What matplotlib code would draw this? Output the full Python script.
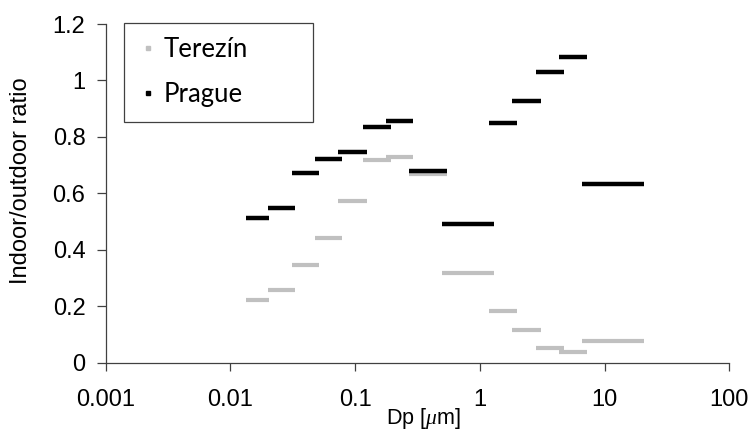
import matplotlib
matplotlib.use("Agg")
import matplotlib.pyplot as plt
from matplotlib.lines import Line2D
from matplotlib.ticker import FixedLocator, FixedFormatter, NullLocator

# Size bins (lower / upper edge, um)
bin_lo = [0.0133, 0.0202, 0.0314, 0.0477, 0.0733, 0.115, 0.177, 0.269, 0.50, 1.18, 1.82, 2.80, 4.30, 6.61]
bin_hi = [0.0205, 0.0332, 0.0511, 0.0789, 0.124, 0.193, 0.293, 0.545, 1.30, 2.00, 3.07, 4.72, 7.26, 20.9]

# Indoor/outdoor ratios
terezin = [0.221, 0.259, 0.347, 0.443, 0.572, 0.718, 0.730, 0.667, 0.317, 0.184, 0.116, 0.052, 0.038, 0.076]
prague = [0.512, 0.549, 0.672, 0.721, 0.748, 0.836, 0.856, 0.680, 0.491, 0.848, 0.928, 1.029, 1.083, 0.632]

series_names = ["Terezín", "Prague"]
series_colors = ["#c0c0c0", "#000000"]

x_ticks = [0.001, 0.01, 0.1, 1, 10, 100]
x_tick_labels = ["0.001", "0.01", "0.1", "1", "10", "100"]
y_ticks = [0, 0.2, 0.4, 0.6, 0.8, 1.0, 1.2]
y_tick_labels = ["0", "0.2", "0.4", "0.6", "0.8", "1", "1.2"]

plt.rcParams['font.family'] = ['Liberation Sans', 'DejaVu Sans']
plt.rcParams['mathtext.fontset'] = 'custom'
plt.rcParams['mathtext.it'] = 'Liberation Serif:italic'

fig = plt.figure(figsize=(7.51, 4.32), dpi=100)
ax = fig.add_axes([0.1405, 0.1604, 0.9711 - 0.1405, 0.9444 - 0.1604])

ax.hlines(terezin, bin_lo, bin_hi, colors=series_colors[0], linewidth=3.0, zorder=2)
ax.hlines(prague, bin_lo, bin_hi, colors=series_colors[1], linewidth=3.2, zorder=3)

ax.set_xscale('log')
ax.set_xlim(0.001, 100)
ax.set_ylim(0, 1.2)
ax.xaxis.set_major_locator(FixedLocator(x_ticks))
ax.xaxis.set_major_formatter(FixedFormatter(x_tick_labels))
ax.xaxis.set_minor_locator(NullLocator())
ax.yaxis.set_major_locator(FixedLocator(y_ticks))
ax.yaxis.set_major_formatter(FixedFormatter(y_tick_labels))

for s in ['top', 'right']:
    ax.spines[s].set_visible(False)
for s in ['left', 'bottom']:
    ax.spines[s].set_color('#404040')
    ax.spines[s].set_linewidth(0.9)

ax.tick_params(axis='x', direction='out', length=6, width=0.9, color='#404040',
               labelsize=17, pad=13)
ax.tick_params(axis='y', direction='out', length=6.5, width=0.9, color='#404040',
               labelsize=17, pad=8)

ax.set_xlabel(r"Dp [$\mu$m]", fontsize=15.5)
ax.xaxis.set_label_coords(0.509, -0.128)
ax.set_ylabel("Indoor/outdoor ratio", fontsize=17)
ax.yaxis.set_label_coords(-0.118, 0.538)

handles = [Line2D([], [], linestyle='none', marker='s', markersize=3.3,
                  markerfacecolor=c, markeredgecolor=c) for c in series_colors]
leg = ax.legend(handles, series_names, loc='upper left',
                bbox_to_anchor=(124 / 751, 1 - 117.3 / 432, 189.3 / 751, 94.6 / 432),
                bbox_transform=fig.transFigure, mode='expand', borderaxespad=0,
                prop={'family': 'Lato', 'size': 18.5}, frameon=True, fancybox=False,
                edgecolor='#404040', framealpha=1, borderpad=0.55, labelspacing=0.80,
                handlelength=0.8, handletextpad=0.2)
leg.get_frame().set_linewidth(0.9)

fig.savefig("out.png", dpi=100)
